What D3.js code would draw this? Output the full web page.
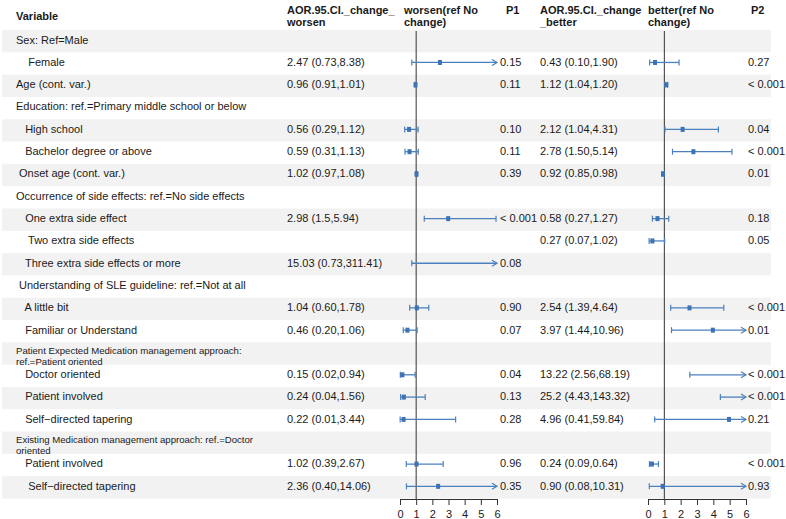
<!DOCTYPE html>
<html><head><meta charset="utf-8">
<script src="https://cdn.jsdelivr.net/npm/d3@7"></script>
<style>
body{margin:0;background:#fff;}
text{font-family:"Liberation Sans",Arial,Helvetica,sans-serif;fill:#1a1a1a;}
</style></head>
<body><svg id="c" width="786" height="519"></svg>
<script>
const labels = [
 "Sex: Ref=Male", "    Female", "Age (cont. var.)", "Education: ref.=Primary middle school or below",
 "   High school", "   Bachelor degree or above", " Onset age (cont. var.)",
 "Occurrence of side effects: ref.=No side effects", "   One extra side effect", "    Two extra side effects",
 "   Three extra side effects or more", " Understanding of SLE guideline: ref.=Not at all", "   A little bit",
 "   Familiar or Understand", "Patient Expected Medication management approach:\nref.=Patient oriented",
 "   Doctor oriented", "   Patient involved", "   Self\u2212directed tapering",
 "Existing Medication management approach: ref.=Doctor\noriented", "   Patient involved", "    Self\u2212directed tapering"
];
const estText1 = ["", "2.47 (0.73,8.38)", "0.96 (0.91,1.01)", "", "0.56 (0.29,1.12)", "0.59 (0.31,1.13)", "1.02 (0.97,1.08)",
 "", "2.98 (1.5,5.94)", "", "15.03 (0.73,311.41)", "", "1.04 (0.60,1.78)", "0.46 (0.20,1.06)", "",
 "0.15 (0.02,0.94)", "0.24 (0.04,1.56)", "0.22 (0.01,3.44)", "", "1.02 (0.39,2.67)", "2.36 (0.40,14.06)"];
const est1 = [null,2.47,0.96,null,0.56,0.59,1.02,null,2.98,null,15.03,null,1.04,0.46,null,0.15,0.24,0.22,null,1.02,2.36];
const lo1  = [null,0.73,0.91,null,0.29,0.31,0.97,null,1.5,null,0.73,null,0.60,0.20,null,0.02,0.04,0.01,null,0.39,0.40];
const hi1  = [null,8.38,1.01,null,1.12,1.13,1.08,null,5.94,null,311.41,null,1.78,1.06,null,0.94,1.56,3.44,null,2.67,14.06];
const p1 = ["", "0.15", "0.11", "", "0.10", "0.11", "0.39", "", "< 0.001", "", "0.08", "", "0.90", "0.07", "",
 "0.04", "0.13", "0.28", "", "0.96", "0.35"];
const estText2 = ["", "0.43 (0.10,1.90)", "1.12 (1.04,1.20)", "", "2.12 (1.04,4.31)", "2.78 (1.50,5.14)", "0.92 (0.85,0.98)",
 "", "0.58 (0.27,1.27)", "0.27 (0.07,1.02)", "", "", "2.54 (1.39,4.64)", "3.97 (1.44,10.96)", "",
 "13.22 (2.56,68.19)", "25.2 (4.43,143.32)", "4.96 (0.41,59.84)", "", "0.24 (0.09,0.64)", "0.90 (0.08,10.31)"];
const est2 = [null,0.43,1.12,null,2.12,2.78,0.92,null,0.58,0.27,null,null,2.54,3.97,null,13.22,25.2,4.96,null,0.24,0.90];
const lo2  = [null,0.10,1.04,null,1.04,1.50,0.85,null,0.27,0.07,null,null,1.39,1.44,null,2.56,4.43,0.41,null,0.09,0.08];
const hi2  = [null,1.90,1.20,null,4.31,5.14,0.98,null,1.27,1.02,null,null,4.64,10.96,null,68.19,143.32,59.84,null,0.64,10.31];
const p2 = ["", "0.27", "< 0.001", "", "0.04", "< 0.001", "0.01", "", "0.18", "0.05", "", "", "< 0.001", "0.01", "",
 "< 0.001", "< 0.001", "0.21", "", "< 0.001", "0.93"];
const headers = [
 {t:["Variable"], x:16, y:[16]},
 {t:["AOR.95.CI._change_","worsen"], x:287, y:[10,22]},
 {t:["worsen(ref No","change)"], x:404, y:[10,22]},
 {t:["P1"], x:506, y:[10]},
 {t:["AOR.95.CI._change","_better"], x:540, y:[10,22]},
 {t:["better(ref No","change)"], x:648, y:[10,22]},
 {t:["P2"], x:751, y:[10]}
];
const ticks = [0,1,2,3,4,5,6];

const svg = d3.select("#c");
const n = labels.length;
const y = d3.scaleBand().domain(d3.range(n)).range([30, 498.5]);
const ym = i => y(i) + y.bandwidth()/2;
const yc = i => ym(i) - 1.5;
const xL = d3.scaleLinear().domain([0,6]).range([400,497]);
const xR = d3.scaleLinear().domain([0,6]).range([648,746]);

// row shading
svg.append("g").selectAll("rect").data(d3.range(n).filter(i => i % 2 === 0)).join("rect")
  .attr("x", 2).attr("width", 769).attr("y", i => y(i)).attr("height", y.bandwidth()).attr("fill", "#f2f2f2");

// headers
headers.forEach(h => {
  h.t.forEach((s, k) => {
    svg.append("text").attr("x", h.x).attr("y", h.y[k]).attr("dy", "0.35em")
      .attr("font-size", 11).attr("font-weight", "bold").text(s);
  });
});

// labels
labels.forEach((s, i) => {
  const lines = s.split("\n");
  if (lines.length > 1) {
    lines.forEach((l, k) => {
      svg.append("text").attr("x", 16).attr("y", ym(i) + (k === 0 ? -3.2 : 8.2)).attr("dy", "0.35em")
        .attr("font-size", 9.6).text(l);
    });
  } else {
    svg.append("text").attr("x", 16).attr("y", yc(i)).attr("dy", "0.35em")
      .attr("font-size", 11).attr("xml:space", "preserve").style("white-space", "pre").text(s);
  }
});

function col(arr, x) {
  svg.append("g").selectAll("text").data(arr).join("text")
    .attr("x", x).attr("y", (d, i) => yc(i)).attr("dy", "0.35em").attr("font-size", 11).text(d => d);
}
col(estText1, 287); col(p1, 500); col(estText2, 540); col(p2, 748);

const blue = "#4b80bf";
function forest(x, est, lo, hi) {
  const g = svg.append("g");
  const [d0, d1] = x.domain();
  // reference line
  g.append("line").attr("x1", x(1)).attr("x2", x(1)).attr("y1", 31).attr("y2", 499)
    .attr("stroke", "#333").attr("stroke-width", 1);
  d3.range(n).forEach(i => {
    if (lo[i] == null) return;
    const cy = yc(i) + 0.5;
    const a = Math.max(lo[i], d0), b = Math.min(hi[i], d1);
    g.append("line").attr("x1", x(a)).attr("x2", x(b)).attr("y1", cy).attr("y2", cy)
      .attr("stroke", blue).attr("stroke-width", 1.3);
    if (lo[i] >= d0) g.append("line").attr("x1", x(lo[i])).attr("x2", x(lo[i])).attr("y1", cy-3).attr("y2", cy+3)
      .attr("stroke", blue).attr("stroke-width", 1.2);
    if (hi[i] <= d1) g.append("line").attr("x1", x(hi[i])).attr("x2", x(hi[i])).attr("y1", cy-3).attr("y2", cy+3)
      .attr("stroke", blue).attr("stroke-width", 1.2);
    else g.append("path").attr("d", `M${x(d1)-5},${cy-3}L${x(d1)},${cy}L${x(d1)-5},${cy+3}`)
      .attr("fill", "none").attr("stroke", blue).attr("stroke-width", 1.2);
    if (est[i] >= d0 && est[i] <= d1)
      g.append("rect").attr("x", x(est[i]) - 2).attr("y", cy - 2.5).attr("width", 4).attr("height", 5).attr("fill", "#3d72b3");
  });
  const ax = g.append("g").attr("transform", "translate(0,499)")
    .call(d3.axisBottom(x).tickValues(ticks).tickSize(6).tickSizeOuter(6).tickFormat(d3.format("d")));
  ax.select(".domain").attr("stroke", "#333");
  ax.selectAll(".tick line").attr("stroke", "#333");
  ax.selectAll(".tick text").attr("font-size", 11).attr("font-family", "Liberation Sans, Arial, sans-serif").attr("fill", "#1a1a1a").attr("dy", "0.9em");
}
forest(xL, est1, lo1, hi1);
forest(xR, est2, lo2, hi2);
</script></body></html>
